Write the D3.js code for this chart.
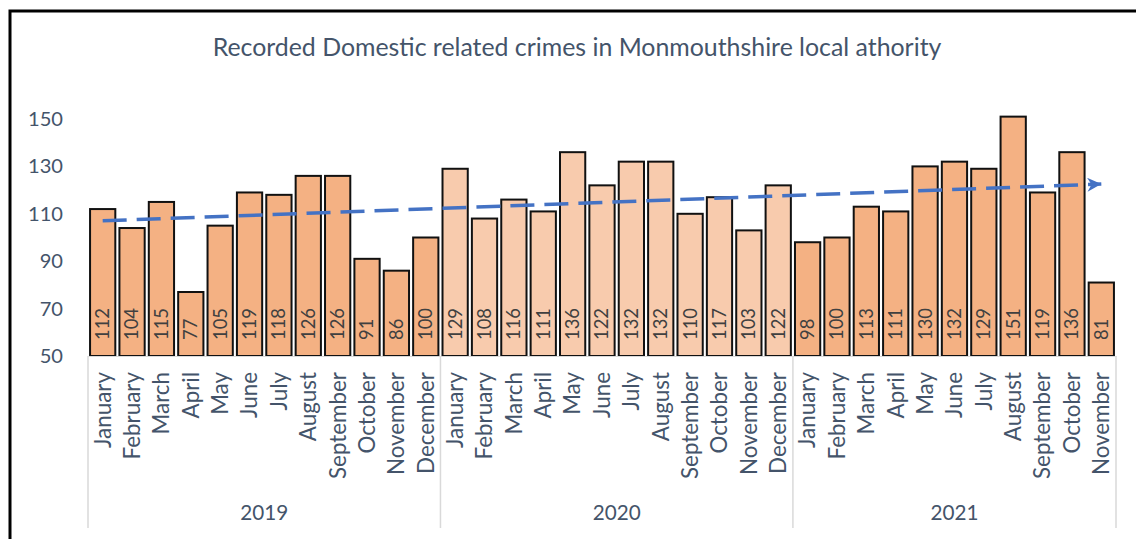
<!DOCTYPE html>
<html><head><meta charset="utf-8">
<script src="https://cdn.jsdelivr.net/npm/d3@7"></script>
<style>body{margin:0;background:#fff}svg{display:block}</style>
</head><body>
<svg id="c" width="1136" height="539"></svg>
<script>
// ---- data ----
const title = "Recorded Domestic related crimes in Monmouthshire local athority";
const years = ["2019", "2020", "2021"];
const months = ["January","February","March","April","May","June","July","August","September","October","November","December"];
const values2019 = [112,104,115,77,105,119,118,126,126,91,86,100];
const values2020 = [129,108,116,111,136,122,132,132,110,117,103,122];
const values2021 = [98,100,113,111,130,132,129,151,119,136,81];
const yTicks = [50,70,90,110,130,150];
const yearColors = {"2019":"#F4B183","2020":"#F8CBAD","2021":"#F4B183"};

const data = [];
[[years[0], values2019],[years[1], values2020],[years[2], values2021]].forEach(([yr, vals]) =>
  vals.forEach((v, i) => data.push({year: yr, month: months[i], value: v, key: yr + "-" + months[i]})));

const W = 1136, H = 539;
const FONT = "Lato, 'Open Sans', sans-serif";
const TEXT = "#44546A";
const svg = d3.select("#c");
svg.append("rect").attr("width", W).attr("height", H).attr("fill", "#fff");

// font fitting helper: scale font size so that sample text gets the target width
function fitSize(sample, target) {
  const t = svg.append("text").attr("font-family", FONT).attr("font-size", 20).text(sample);
  const w = t.node().getComputedTextLength();
  t.remove();
  return 20 * target / w;
}

const x = d3.scaleBand().domain(data.map(d => d.key)).range([88, 1116]).paddingInner(0.14).paddingOuter(0.07);
const y = d3.scaleLinear().domain([50, 150]).range([356, 119]);

// frame
svg.append("rect").attr("x", 10).attr("y", 11).attr("width", 1300).attr("height", 700)
  .attr("fill", "none").attr("stroke", "#000").attr("stroke-width", 3);

// title
svg.append("text").attr("x", 577).attr("y", 56).attr("text-anchor", "middle")
  .attr("font-family", FONT).attr("font-size", fitSize(title, 729)).attr("fill", TEXT).text(title);

// y axis
const ySize = fitSize("150", 35);
const yAxis = svg.append("g").attr("transform", "translate(88,0)")
  .call(d3.axisLeft(y).tickValues(yTicks).tickSize(0).tickPadding(25));
yAxis.select(".domain").remove();
yAxis.selectAll("text").attr("font-family", FONT).attr("font-size", ySize).attr("fill", TEXT);

// bars
const bw = x.bandwidth();
svg.append("g").selectAll("rect").data(data).join("rect")
  .attr("x", d => x(d.key)).attr("width", bw)
  .attr("y", d => y(d.value)).attr("height", d => y(50) - y(d.value))
  .attr("fill", d => yearColors[d.year]).attr("stroke", "#111").attr("stroke-width", 2);

// data labels
const dlSize = fitSize("112", 32);
svg.append("g").selectAll("text").data(data).join("text")
  .attr("transform", d => `translate(${x(d.key) + bw / 2},340) rotate(-90)`)
  .attr("dy", "0.35em").attr("font-family", FONT).attr("font-size", dlSize)
  .attr("fill", "#404040").text(d => d.value);

// x axis (months)
const mSize = fitSize("September", 107);
const xAxis = svg.append("g").attr("transform", "translate(0,356)")
  .call(d3.axisBottom(x).tickSize(0).tickSizeOuter(0).tickFormat(k => k.split("-")[1]));
xAxis.select(".domain").attr("stroke", "#D9D9D9").attr("stroke-width", 1.2);
xAxis.selectAll("text").attr("transform", "rotate(-90)").attr("x", -16).attr("y", 0)
  .attr("dy", "0.35em").attr("text-anchor", "end")
  .attr("font-family", FONT).attr("font-size", mSize).attr("fill", TEXT);

// year separators and labels
const off = x.step() * x.paddingOuter();
const bounds = years.map(yr => x(data.find(d => d.year === yr).key) - off);
bounds.push(x.range()[1]);
svg.append("g").selectAll("line").data(bounds).join("line")
  .attr("x1", d => d).attr("x2", d => d).attr("y1", 356).attr("y2", 528)
  .attr("stroke", "#D9D9D9").attr("stroke-width", 1.5);
const yrSize = fitSize("2019", 48);
svg.append("g").selectAll("text").data(years).join("text")
  .attr("x", (d, i) => (bounds[i] + bounds[i + 1]) / 2).attr("y", 520)
  .attr("text-anchor", "middle").attr("font-family", FONT).attr("font-size", yrSize)
  .attr("fill", TEXT).text(d => d);

// linear trend line
const n = data.length;
const mx = d3.mean(data, (d, i) => i), my = d3.mean(data, d => d.value);
const sxy = d3.sum(data, (d, i) => (i - mx) * (d.value - my));
const sxx = d3.sum(data, (d, i) => (i - mx) * (i - mx));
const slope = sxy / sxx, icpt = my - slope * mx;
const trend = [0, n - 1].map(i => ({key: data[i].key, value: icpt + slope * i}));

svg.append("defs").append("marker").attr("id", "arr")
  .attr("viewBox", "0 0 10 10").attr("refX", 10).attr("refY", 5)
  .attr("markerUnits", "userSpaceOnUse").attr("markerWidth", 15).attr("markerHeight", 14)
  .attr("orient", "auto")
  .append("path").attr("d", "M0,0 L10,5 L0,10 L3,5 Z").attr("fill", "#4472C4");

svg.append("path").datum(trend)
  .attr("d", d3.line().x(d => x(d.key) + bw / 2).y(d => y(d.value)))
  .attr("fill", "none").attr("stroke", "#4472C4").attr("stroke-width", 3.5)
  .attr("stroke-dasharray", "24,10").attr("marker-end", "url(#arr)");
</script>
</body></html>
